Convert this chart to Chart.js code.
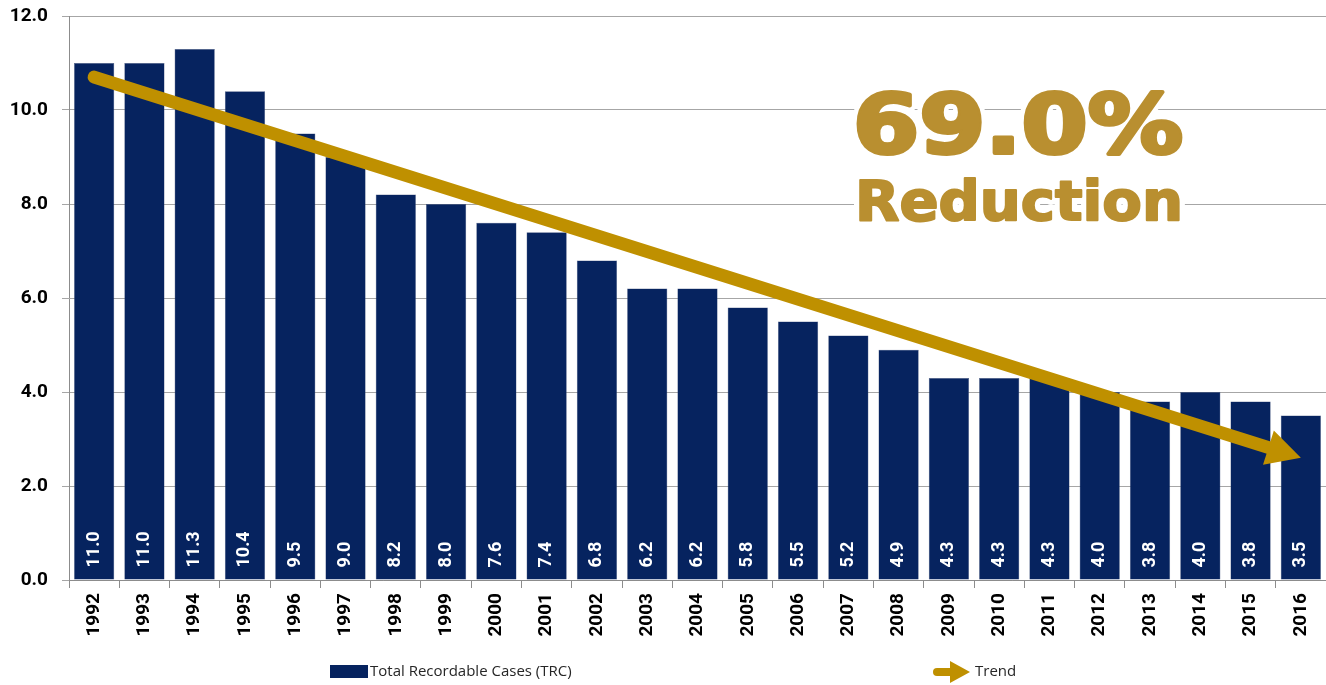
<!DOCTYPE html>
<html>
<head>
<meta charset="utf-8">
<script src="https://cdn.jsdelivr.net/npm/chart.js@4.4.1/dist/chart.umd.min.js"></script>
<style>
  body { margin: 0; background: #fff; }
</style>
</head>
<body>
<canvas id="chart" width="1326" height="685"></canvas>
<script>
const years = ['1992','1993','1994','1995','1996','1997','1998','1999','2000','2001','2002','2003','2004',
               '2005','2006','2007','2008','2009','2010','2011','2012','2013','2014','2015','2016'];
const trcValues = [11.0,11.0,11.3,10.4,9.5,9.0,8.2,8.0,7.6,7.4,6.8,6.2,6.2,5.8,5.5,5.2,4.9,4.3,4.3,4.3,4.0,3.8,4.0,3.8,3.5];
const trendYears = ['1992','2016'];
const trendValues = [10.7, 2.6];
const yTicks = [0, 2, 4, 6, 8, 10, 12];

const navy = '#06235f';
const gold = '#bf9000';
const textGold = '#b98f30';

Chart.defaults.font.family = 'Roboto';

// value labels inside the bars, trend arrow, big annotation, legend
const decorations = {
    id: 'decorations',
    beforeDatasetsDraw(chart) {
        const ctx = chart.ctx;
        const lines = [['69.0%', 82, 853, 153, 330], ['Reduction', 55, 855, 220, 328]];
        ctx.save();
        ctx.lineJoin = 'round';
        ctx.textBaseline = 'alphabetic';
        for (const [txt, size, x, y, w] of lines) {
            ctx.font = 'bold ' + size + 'px "DejaVu Sans"';
            const sx = w / ctx.measureText(txt).width;
            ctx.save();
            ctx.translate(x, y);
            ctx.scale(sx, 1);
            ctx.strokeStyle = '#fff';
            ctx.lineWidth = 12;
            ctx.strokeText(txt, 0, 0);
            ctx.strokeStyle = textGold;
            ctx.lineWidth = size > 60 ? 4 : 2;
            ctx.strokeText(txt, 0, 0);
            ctx.fillStyle = textGold;
            ctx.fillText(txt, 0, 0);
            ctx.restore();
        }
        ctx.restore();
    },
    afterDatasetsDraw(chart) {
        const ctx = chart.ctx;
        const bars = chart.getDatasetMeta(0).data;
        ctx.save();
        ctx.fillStyle = '#fff';
        ctx.font = 'bold 18px Roboto';
        ctx.textAlign = 'left';
        ctx.textBaseline = 'middle';
        bars.forEach((bar, i) => {
            ctx.save();
            ctx.translate(bar.x, bar.base - 12);
            ctx.rotate(-Math.PI / 2);
            ctx.fillText(trcValues[i].toFixed(1), 0, 0);
            ctx.restore();
        });
        ctx.restore();

        // trend arrow
        const pts = chart.getDatasetMeta(1).data;
        const a = pts[0], b = pts[pts.length - 1];
        const ang = Math.atan2(b.y - a.y, b.x - a.x);
        const headLen = 34, headHalf = 18;
        const bx = b.x - headLen * Math.cos(ang), by = b.y - headLen * Math.sin(ang);
        ctx.save();
        ctx.strokeStyle = gold;
        ctx.fillStyle = gold;
        ctx.lineWidth = 13;
        ctx.lineCap = 'round';
        ctx.beginPath();
        ctx.moveTo(a.x, a.y);
        ctx.lineTo(bx + 2 * Math.cos(ang), by + 2 * Math.sin(ang));
        ctx.stroke();
        ctx.beginPath();
        ctx.moveTo(b.x, b.y);
        ctx.lineTo(bx + headHalf * Math.sin(ang), by - headHalf * Math.cos(ang));
        ctx.lineTo(bx - headHalf * Math.sin(ang), by + headHalf * Math.cos(ang));
        ctx.closePath();
        ctx.fill();
        ctx.restore();
    },
    afterDraw(chart) {
        const ctx = chart.ctx;
        ctx.save();
        ctx.font = '15px "Open Sans"';
        ctx.textBaseline = 'middle';
        ctx.fillStyle = navy;
        ctx.fillRect(330, 665, 38, 13);
        ctx.fillStyle = '#262626';
        ctx.fillText('Total Recordable Cases (TRC)', 370, 672);

        ctx.strokeStyle = gold;
        ctx.fillStyle = gold;
        ctx.lineWidth = 8;
        ctx.lineCap = 'round';
        ctx.beginPath();
        ctx.moveTo(937, 672);
        ctx.lineTo(952, 672);
        ctx.stroke();
        ctx.beginPath();
        ctx.moveTo(970, 672);
        ctx.lineTo(950, 661);
        ctx.lineTo(950, 683);
        ctx.closePath();
        ctx.fill();
        ctx.fillStyle = '#262626';
        ctx.fillText('Trend', 975, 672);
        ctx.restore();
    }
};

new Chart(document.getElementById('chart').getContext('2d'), {
    data: {
        labels: years,
        datasets: [{
            type: 'bar',
            label: 'Total Recordable Cases (TRC)',
            data: trcValues,
            backgroundColor: navy,
            borderColor: '#4a5a80',
            borderWidth: 0.5,
            barPercentage: 0.8,
            categoryPercentage: 1.0,
            order: 2
        }, {
            type: 'line',
            label: 'Trend',
            data: trendYears.map((y, i) => ({ x: y, y: trendValues[i] })),
            showLine: false,
            pointRadius: 0,
            order: 1
        }]
    },
    options: {
        responsive: false,
        animation: false,
        layout: { padding: { top: 16, right: 0, left: 0, bottom: 0 } },
        plugins: {
            legend: { display: false },
            tooltip: { enabled: false }
        },
        scales: {
            x: {
                grid: {
                    display: true,
                    drawOnChartArea: false,
                    tickLength: 8,
                    color: '#8c8c8c'
                },
                border: { color: '#8c8c8c' },
                ticks: {
                    minRotation: 90,
                    maxRotation: 90,
                    padding: 5,
                    color: '#000',
                    font: { size: 19, weight: 'bold' }
                },
                afterFit(scale) {
                    scale.height = 105;
                    scale.paddingRight = 0;
                }
            },
            y: {
                min: 0,
                max: 12,
                afterBuildTicks(scale) { scale.ticks = yTicks.map(v => ({ value: v })); },
                grid: {
                    color: '#a6a6a6',
                    tickLength: 7
                },
                border: { color: '#8c8c8c' },
                ticks: {
                    padding: 14,
                    color: '#000',
                    font: { size: 19, weight: 'bold' },
                    callback: v => v.toFixed(1)
                },
                afterFit(scale) {
                    scale.width = 69;
                    scale.paddingTop = 0;
                    scale.paddingBottom = 0;
                }
            }
        }
    },
    plugins: [decorations]
});
</script>
</body>
</html>
